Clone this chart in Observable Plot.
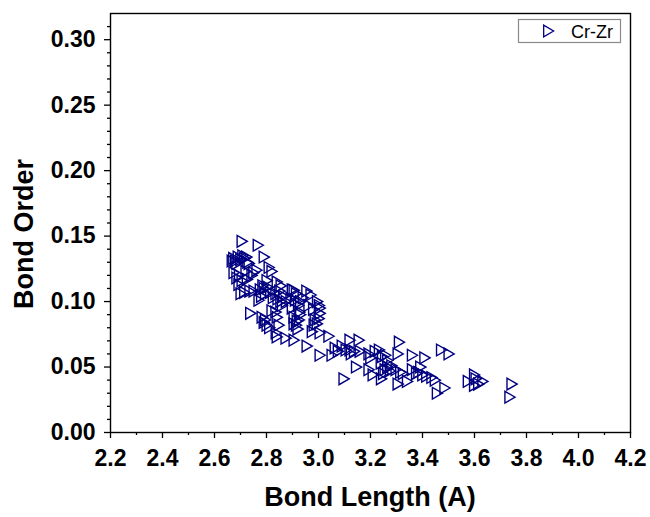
<!DOCTYPE html>
<html>
<head>
<meta charset="utf-8">
<script src="https://cdn.jsdelivr.net/npm/d3@7"></script>
<script src="https://cdn.jsdelivr.net/npm/@observablehq/plot@0.6"></script>
<style>
  html, body { margin: 0; padding: 0; background: white; }
</style>
</head>
<body>
<div id="chart"></div>
<script>
// Data (Cr-Zr bonds)
const seriesName = "Cr-Zr";
const bondLength = [
  2.70, 2.762,
  2.662, 2.668, 2.675, 2.685, 2.695, 2.703, 2.71, 2.718, 2.722, 2.68,
  2.785, 2.727, 2.804, 2.815, 2.757, 2.745, 2.669, 2.68, 2.69, 2.715, 2.738, 2.70, 2.72,
  2.835, 2.796, 2.85, 2.785, 2.688, 2.696, 2.71, 2.73, 2.746, 2.77, 2.775, 2.765, 2.78, 2.80, 2.79, 2.81, 2.82,
  2.83, 2.838, 2.849, 2.845, 2.86, 2.855, 2.87,
  2.893, 2.90, 2.909, 2.888, 2.905, 2.917, 2.925, 2.893, 2.922, 2.935, 2.949, 2.965, 2.957, 2.99, 2.997, 3.0, 3.0, 2.975,
  2.912, 2.909, 2.925, 2.90, 2.915,
  2.981, 2.989, 2.996, 2.977, 2.97, 3.0, 3.034,
  2.733, 2.777, 2.785, 2.796, 2.79, 2.806, 2.835, 2.842, 2.815, 2.83, 2.831, 2.835, 2.869, 2.90, 2.90, 2.92,
  2.95, 3.0, 3.046, 3.058, 3.085, 3.07, 3.10, 3.115, 3.15, 3.115, 3.132, 3.154, 3.12, 3.092, 3.14,
  3.188, 3.195, 3.212, 3.228, 3.24, 3.252, 3.26, 3.235, 3.30, 3.305,
  3.188, 3.204, 3.236, 3.244, 3.25, 3.26, 3.276, 3.27, 3.292, 3.31, 3.30, 3.336, 3.32,
  3.355, 3.403, 3.355, 3.371, 3.387, 3.38, 3.395, 3.41, 3.43, 3.443,
  3.467, 3.496, 3.451, 3.48,
  3.57, 3.594, 3.594, 3.61, 3.626, 3.60,
  3.738, 3.73
];
const bondOrder = [
  0.146, 0.143,
  0.131, 0.133, 0.131, 0.134, 0.132, 0.135, 0.133, 0.134, 0.130, 0.129,
  0.134, 0.129, 0.126, 0.123, 0.124, 0.122, 0.122, 0.118, 0.120, 0.123, 0.120, 0.116, 0.117,
  0.115, 0.116, 0.112, 0.110, 0.113, 0.106, 0.107, 0.108, 0.108, 0.109, 0.104, 0.101, 0.112, 0.111, 0.106, 0.107, 0.103,
  0.106, 0.102, 0.100, 0.108, 0.104, 0.097, 0.100,
  0.109, 0.1086, 0.106, 0.1025, 0.101, 0.097, 0.100, 0.095, 0.092, 0.103, 0.108, 0.105, 0.097, 0.100, 0.097, 0.095, 0.091, 0.094,
  0.085, 0.082, 0.090, 0.088, 0.079,
  0.086, 0.083, 0.087, 0.082, 0.077, 0.076, 0.0735,
  0.091, 0.088, 0.084, 0.082, 0.086, 0.080, 0.088, 0.082, 0.093, 0.092, 0.076, 0.073, 0.072, 0.0705, 0.083, 0.086,
  0.066, 0.059, 0.059, 0.0645, 0.066, 0.062, 0.063, 0.0705, 0.0705, 0.063, 0.062, 0.062, 0.060, 0.041, 0.050,
  0.060, 0.057, 0.062, 0.063, 0.058, 0.059, 0.055, 0.053, 0.060, 0.069,
  0.048, 0.044, 0.041, 0.045, 0.048, 0.050, 0.051, 0.047, 0.048, 0.046, 0.037, 0.039, 0.045,
  0.059, 0.057, 0.048, 0.045, 0.050, 0.046, 0.044, 0.043, 0.042, 0.040,
  0.063, 0.060, 0.030, 0.034,
  0.039, 0.044, 0.036, 0.037, 0.039, 0.041,
  0.037, 0.027
];
const xTicks = [2.2, 2.4, 2.6, 2.8, 3.0, 3.2, 3.4, 3.6, 3.8, 4.0, 4.2];
const xMinor = [2.3, 2.5, 2.7, 2.9, 3.1, 3.3, 3.5, 3.7, 3.9, 4.1];
const yTicks = [0.00, 0.05, 0.10, 0.15, 0.20, 0.25, 0.30];
const yMinor = [0.01, 0.02, 0.03, 0.04, 0.06, 0.07, 0.08, 0.09, 0.11, 0.12, 0.13, 0.14,
  0.16, 0.17, 0.18, 0.19, 0.21, 0.22, 0.23, 0.24, 0.26, 0.27, 0.28, 0.29, 0.31];
const xTitle = "Bond Length (A)";
const yTitle = "Bond Order";

const data = bondLength.map((x, i) => ({x, y: bondOrder[i]}));

// right-pointing open triangle
const triRight = {
  draw(ctx, size) {
    const s = Math.sqrt(size) * 0.6824;
    const t = s / 2;
    const u = s * Math.sqrt(3) / 2;
    ctx.moveTo(s, 0);
    ctx.lineTo(-t, u);
    ctx.lineTo(-t, -u);
    ctx.closePath();
  }
};

const navy = "#000080";
const font = "'Liberation Sans', Arial, sans-serif";

const chart = Plot.plot({
  width: 650,
  height: 517,
  marginLeft: 110,
  marginRight: 20,
  marginTop: 13,
  marginBottom: 85,
  x: {domain: [2.2, 4.2]},
  y: {domain: [0, 0.32]},
  style: {fontFamily: font, background: "white", color: "black"},
  marks: [
    Plot.axisX({ticks: xMinor, tickSize: 3, tickFormat: () => "", label: null, strokeWidth: 1.3}),
    Plot.axisX({ticks: xTicks, tickSize: 6, tickPadding: 11, tickFormat: d3.format(".1f"),
      fontSize: 23, fontWeight: "bold", label: null, strokeWidth: 1.3}),
    Plot.axisY({ticks: yMinor, tickSize: 3, tickFormat: () => "", label: null, strokeWidth: 1.3}),
    Plot.axisY({ticks: yTicks, tickSize: 6, tickPadding: 9, tickFormat: d3.format(".2f"),
      fontSize: 23, fontWeight: "bold", label: null, strokeWidth: 1.3}),
    Plot.dot(data, {x: "x", y: "y", symbol: triRight, r: 5.6, stroke: navy, strokeWidth: 1.4, fill: "none"}),
    Plot.frame({stroke: "black", strokeWidth: 1.4})
  ]
});

const svg = d3.select(chart);
// enforce tick label typography
svg.selectAll("g[aria-label$='tick label']")
  .style("font-size", "23px")
  .style("font-weight", "bold")
  .style("font-family", font);
svg.selectAll("g[aria-label$='tick label'] text")
  .style("font-size", "23px")
  .style("font-weight", "bold");
// axis titles
svg.append("text")
  .attr("x", 370).attr("y", 506)
  .attr("text-anchor", "middle")
  .style("font-family", font).style("font-weight", "bold").style("font-size", "27px")
  .attr("fill", "black")
  .text(xTitle);
svg.append("text")
  .attr("transform", "translate(33,234) rotate(-90)")
  .attr("text-anchor", "middle")
  .style("font-family", font).style("font-weight", "bold").style("font-size", "27px")
  .attr("fill", "black")
  .text(yTitle);
// legend
const lg = svg.append("g");
lg.append("rect")
  .attr("x", 518.5).attr("y", 19.5).attr("width", 102).attr("height", 23)
  .attr("fill", "white").attr("stroke", "#8a8a8a").attr("stroke-width", 1.2);
lg.append("path")
  .attr("transform", "translate(547,31)")
  .attr("d", d3.symbol(triRight, Math.PI * 5.5 * 5.5)())
  .attr("fill", "none").attr("stroke", navy).attr("stroke-width", 1.3);
lg.append("text")
  .attr("x", 571).attr("y", 37.5)
  .attr("text-anchor", "start")
  .style("font-family", font).style("font-size", "18px").style("font-weight", "normal")
  .attr("fill", "black")
  .text(seriesName);

document.getElementById("chart").appendChild(chart);
</script>
</body>
</html>
